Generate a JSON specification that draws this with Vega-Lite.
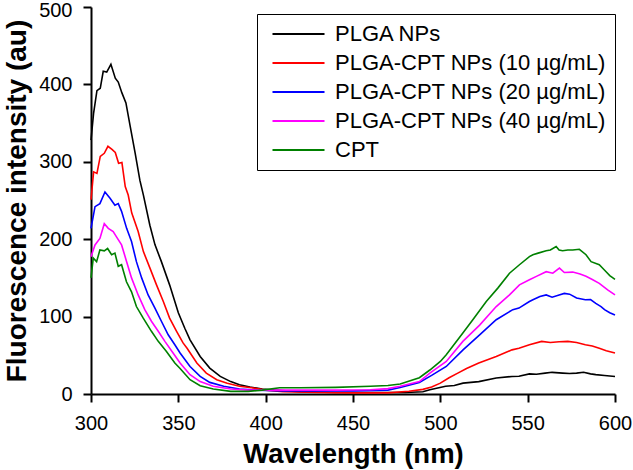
{
  "$schema": "https://vega.github.io/schema/vega-lite/v6.json",
  "width": 524,
  "height": 387,
  "autosize": {"type": "none"},
  "padding": {"left": 91, "top": 7, "right": 18, "bottom": 76},
  "background": "white",
  "config": {
    "font": "Liberation Sans",
    "view": {"stroke": null},
    "axis": {
      "domainColor": "black", "domainWidth": 2, "tickColor": "black", "tickWidth": 2, "tickSize": 8,
      "labelColor": "black", "labelFont": "Liberation Sans", "labelFontSize": 20,
      "titleFont": "Liberation Sans", "titleFontWeight": "bold", "titleColor": "black",
      "grid": false
    },
    "legend": {
      "labelFont": "Liberation Sans", "labelFontSize": 22, "labelColor": "black"
    }
  },
  "data": {"values": [
    {"w":300,"s":"PLGA NPs","v":328},{"w":301.5,"s":"PLGA NPs","v":363},{"w":303.4,"s":"PLGA NPs","v":392},{"w":305.3,"s":"PLGA NPs","v":395},{"w":307,"s":"PLGA NPs","v":417},{"w":309,"s":"PLGA NPs","v":416},{"w":311.4,"s":"PLGA NPs","v":426},{"w":313.9,"s":"PLGA NPs","v":408},{"w":315.6,"s":"PLGA NPs","v":403},{"w":317.7,"s":"PLGA NPs","v":389},{"w":320,"s":"PLGA NPs","v":376},{"w":322.5,"s":"PLGA NPs","v":345},{"w":325.3,"s":"PLGA NPs","v":311},{"w":328,"s":"PLGA NPs","v":276},{"w":330,"s":"PLGA NPs","v":257},{"w":333.7,"s":"PLGA NPs","v":218},{"w":336.6,"s":"PLGA NPs","v":193},{"w":340.3,"s":"PLGA NPs","v":171},{"w":345,"s":"PLGA NPs","v":141},{"w":350,"s":"PLGA NPs","v":105},{"w":353.7,"s":"PLGA NPs","v":85},{"w":356.7,"s":"PLGA NPs","v":70},{"w":362.5,"s":"PLGA NPs","v":48.5},{"w":368,"s":"PLGA NPs","v":33.5},{"w":374,"s":"PLGA NPs","v":22.7},{"w":380,"s":"PLGA NPs","v":16},{"w":385,"s":"PLGA NPs","v":12},{"w":391,"s":"PLGA NPs","v":9},{"w":398,"s":"PLGA NPs","v":6.5},{"w":405,"s":"PLGA NPs","v":5},{"w":420,"s":"PLGA NPs","v":3},{"w":440,"s":"PLGA NPs","v":2},{"w":460,"s":"PLGA NPs","v":2},{"w":480,"s":"PLGA NPs","v":2},{"w":490,"s":"PLGA NPs","v":3},{"w":494,"s":"PLGA NPs","v":5.5},{"w":503,"s":"PLGA NPs","v":10},{"w":508,"s":"PLGA NPs","v":11},{"w":513,"s":"PLGA NPs","v":14},{"w":522,"s":"PLGA NPs","v":16},{"w":532,"s":"PLGA NPs","v":20.6},{"w":541,"s":"PLGA NPs","v":22.7},{"w":545,"s":"PLGA NPs","v":23},{"w":551,"s":"PLGA NPs","v":26},{"w":555,"s":"PLGA NPs","v":25.5},{"w":560,"s":"PLGA NPs","v":27},{"w":564,"s":"PLGA NPs","v":28},{"w":570,"s":"PLGA NPs","v":27},{"w":574,"s":"PLGA NPs","v":26.5},{"w":578,"s":"PLGA NPs","v":27},{"w":582,"s":"PLGA NPs","v":28},{"w":586,"s":"PLGA NPs","v":26},{"w":589,"s":"PLGA NPs","v":25},{"w":594,"s":"PLGA NPs","v":24},{"w":600,"s":"PLGA NPs","v":22.7},

    {"w":300,"s":"PLGA-CPT NPs (10 µg/mL)","v":251},{"w":301.5,"s":"PLGA-CPT NPs (10 µg/mL)","v":287},{"w":303.4,"s":"PLGA-CPT NPs (10 µg/mL)","v":285},{"w":305.3,"s":"PLGA-CPT NPs (10 µg/mL)","v":307},{"w":307.6,"s":"PLGA-CPT NPs (10 µg/mL)","v":311},{"w":309.7,"s":"PLGA-CPT NPs (10 µg/mL)","v":320},{"w":312,"s":"PLGA-CPT NPs (10 µg/mL)","v":316},{"w":313.9,"s":"PLGA-CPT NPs (10 µg/mL)","v":312},{"w":315.8,"s":"PLGA-CPT NPs (10 µg/mL)","v":298},{"w":317.7,"s":"PLGA-CPT NPs (10 µg/mL)","v":299},{"w":319.6,"s":"PLGA-CPT NPs (10 µg/mL)","v":268},{"w":321.3,"s":"PLGA-CPT NPs (10 µg/mL)","v":257},{"w":323.3,"s":"PLGA-CPT NPs (10 µg/mL)","v":234},{"w":327,"s":"PLGA-CPT NPs (10 µg/mL)","v":210},{"w":330,"s":"PLGA-CPT NPs (10 µg/mL)","v":184},{"w":333.7,"s":"PLGA-CPT NPs (10 µg/mL)","v":163},{"w":337.5,"s":"PLGA-CPT NPs (10 µg/mL)","v":141},{"w":341.4,"s":"PLGA-CPT NPs (10 µg/mL)","v":119.5},{"w":345,"s":"PLGA-CPT NPs (10 µg/mL)","v":98},{"w":349,"s":"PLGA-CPT NPs (10 µg/mL)","v":81},{"w":352.7,"s":"PLGA-CPT NPs (10 µg/mL)","v":66},{"w":355,"s":"PLGA-CPT NPs (10 µg/mL)","v":59},{"w":360.6,"s":"PLGA-CPT NPs (10 µg/mL)","v":40},{"w":366,"s":"PLGA-CPT NPs (10 µg/mL)","v":27},{"w":372,"s":"PLGA-CPT NPs (10 µg/mL)","v":18.5},{"w":378,"s":"PLGA-CPT NPs (10 µg/mL)","v":14},{"w":385,"s":"PLGA-CPT NPs (10 µg/mL)","v":10},{"w":393,"s":"PLGA-CPT NPs (10 µg/mL)","v":7.7},{"w":400,"s":"PLGA-CPT NPs (10 µg/mL)","v":5},{"w":410,"s":"PLGA-CPT NPs (10 µg/mL)","v":3},{"w":430,"s":"PLGA-CPT NPs (10 µg/mL)","v":2},{"w":450,"s":"PLGA-CPT NPs (10 µg/mL)","v":1.5},{"w":470,"s":"PLGA-CPT NPs (10 µg/mL)","v":1.5},{"w":482,"s":"PLGA-CPT NPs (10 µg/mL)","v":3.5},{"w":490,"s":"PLGA-CPT NPs (10 µg/mL)","v":6},{"w":495,"s":"PLGA-CPT NPs (10 µg/mL)","v":9},{"w":500,"s":"PLGA-CPT NPs (10 µg/mL)","v":14},{"w":505,"s":"PLGA-CPT NPs (10 µg/mL)","v":21},{"w":510,"s":"PLGA-CPT NPs (10 µg/mL)","v":27},{"w":515,"s":"PLGA-CPT NPs (10 µg/mL)","v":33},{"w":522,"s":"PLGA-CPT NPs (10 µg/mL)","v":40},{"w":532,"s":"PLGA-CPT NPs (10 µg/mL)","v":48.5},{"w":541,"s":"PLGA-CPT NPs (10 µg/mL)","v":57},{"w":545,"s":"PLGA-CPT NPs (10 µg/mL)","v":59},{"w":551,"s":"PLGA-CPT NPs (10 µg/mL)","v":63.6},{"w":558,"s":"PLGA-CPT NPs (10 µg/mL)","v":68},{"w":563,"s":"PLGA-CPT NPs (10 µg/mL)","v":66.5},{"w":568,"s":"PLGA-CPT NPs (10 µg/mL)","v":67.5},{"w":573,"s":"PLGA-CPT NPs (10 µg/mL)","v":68},{"w":578,"s":"PLGA-CPT NPs (10 µg/mL)","v":66.5},{"w":583,"s":"PLGA-CPT NPs (10 µg/mL)","v":63.6},{"w":587,"s":"PLGA-CPT NPs (10 µg/mL)","v":62},{"w":591,"s":"PLGA-CPT NPs (10 µg/mL)","v":59},{"w":595,"s":"PLGA-CPT NPs (10 µg/mL)","v":56},{"w":600,"s":"PLGA-CPT NPs (10 µg/mL)","v":53},

    {"w":300,"s":"PLGA-CPT NPs (20 µg/mL)","v":214},{"w":302.3,"s":"PLGA-CPT NPs (20 µg/mL)","v":242},{"w":305.1,"s":"PLGA-CPT NPs (20 µg/mL)","v":246},{"w":308,"s":"PLGA-CPT NPs (20 µg/mL)","v":261},{"w":310.9,"s":"PLGA-CPT NPs (20 µg/mL)","v":253},{"w":313.7,"s":"PLGA-CPT NPs (20 µg/mL)","v":244},{"w":315.6,"s":"PLGA-CPT NPs (20 µg/mL)","v":246},{"w":317.5,"s":"PLGA-CPT NPs (20 µg/mL)","v":236},{"w":320.4,"s":"PLGA-CPT NPs (20 µg/mL)","v":214},{"w":323.2,"s":"PLGA-CPT NPs (20 µg/mL)","v":197},{"w":326,"s":"PLGA-CPT NPs (20 µg/mL)","v":171},{"w":329,"s":"PLGA-CPT NPs (20 µg/mL)","v":150},{"w":332.7,"s":"PLGA-CPT NPs (20 µg/mL)","v":128},{"w":336.6,"s":"PLGA-CPT NPs (20 µg/mL)","v":111},{"w":340.3,"s":"PLGA-CPT NPs (20 µg/mL)","v":94},{"w":344.2,"s":"PLGA-CPT NPs (20 µg/mL)","v":76.5},{"w":348,"s":"PLGA-CPT NPs (20 µg/mL)","v":63.6},{"w":351,"s":"PLGA-CPT NPs (20 µg/mL)","v":53},{"w":356.7,"s":"PLGA-CPT NPs (20 µg/mL)","v":35.6},{"w":362.5,"s":"PLGA-CPT NPs (20 µg/mL)","v":22.7},{"w":368,"s":"PLGA-CPT NPs (20 µg/mL)","v":15},{"w":376,"s":"PLGA-CPT NPs (20 µg/mL)","v":10},{"w":385,"s":"PLGA-CPT NPs (20 µg/mL)","v":6.5},{"w":395,"s":"PLGA-CPT NPs (20 µg/mL)","v":5},{"w":410,"s":"PLGA-CPT NPs (20 µg/mL)","v":4},{"w":430,"s":"PLGA-CPT NPs (20 µg/mL)","v":4},{"w":450,"s":"PLGA-CPT NPs (20 µg/mL)","v":4},{"w":470,"s":"PLGA-CPT NPs (20 µg/mL)","v":5},{"w":477,"s":"PLGA-CPT NPs (20 µg/mL)","v":8.5},{"w":488,"s":"PLGA-CPT NPs (20 µg/mL)","v":15},{"w":495,"s":"PLGA-CPT NPs (20 µg/mL)","v":24},{"w":503.4,"s":"PLGA-CPT NPs (20 µg/mL)","v":35.6},{"w":513,"s":"PLGA-CPT NPs (20 µg/mL)","v":57},{"w":522.5,"s":"PLGA-CPT NPs (20 µg/mL)","v":76.5},{"w":532,"s":"PLGA-CPT NPs (20 µg/mL)","v":96},{"w":541.5,"s":"PLGA-CPT NPs (20 µg/mL)","v":109},{"w":545,"s":"PLGA-CPT NPs (20 µg/mL)","v":111},{"w":551,"s":"PLGA-CPT NPs (20 µg/mL)","v":119.5},{"w":553,"s":"PLGA-CPT NPs (20 µg/mL)","v":121.7},{"w":557,"s":"PLGA-CPT NPs (20 µg/mL)","v":126},{"w":560.6,"s":"PLGA-CPT NPs (20 µg/mL)","v":128},{"w":564,"s":"PLGA-CPT NPs (20 µg/mL)","v":125},{"w":568,"s":"PLGA-CPT NPs (20 µg/mL)","v":128},{"w":571,"s":"PLGA-CPT NPs (20 µg/mL)","v":130},{"w":574,"s":"PLGA-CPT NPs (20 µg/mL)","v":129},{"w":578,"s":"PLGA-CPT NPs (20 µg/mL)","v":124},{"w":583,"s":"PLGA-CPT NPs (20 µg/mL)","v":121.7},{"w":586,"s":"PLGA-CPT NPs (20 µg/mL)","v":122},{"w":589,"s":"PLGA-CPT NPs (20 µg/mL)","v":117},{"w":592,"s":"PLGA-CPT NPs (20 µg/mL)","v":113},{"w":594,"s":"PLGA-CPT NPs (20 µg/mL)","v":109},{"w":597,"s":"PLGA-CPT NPs (20 µg/mL)","v":105},{"w":600,"s":"PLGA-CPT NPs (20 µg/mL)","v":102},

    {"w":300,"s":"PLGA-CPT NPs (40 µg/mL)","v":177.5},{"w":302.3,"s":"PLGA-CPT NPs (40 µg/mL)","v":192.6},{"w":305.1,"s":"PLGA-CPT NPs (40 µg/mL)","v":201},{"w":307.6,"s":"PLGA-CPT NPs (40 µg/mL)","v":220},{"w":309.9,"s":"PLGA-CPT NPs (40 µg/mL)","v":214},{"w":312.7,"s":"PLGA-CPT NPs (40 µg/mL)","v":210},{"w":314.6,"s":"PLGA-CPT NPs (40 µg/mL)","v":203},{"w":317.5,"s":"PLGA-CPT NPs (40 µg/mL)","v":192.6},{"w":320.4,"s":"PLGA-CPT NPs (40 µg/mL)","v":171},{"w":323.2,"s":"PLGA-CPT NPs (40 µg/mL)","v":150},{"w":327,"s":"PLGA-CPT NPs (40 µg/mL)","v":128},{"w":330.8,"s":"PLGA-CPT NPs (40 µg/mL)","v":109},{"w":334.6,"s":"PLGA-CPT NPs (40 µg/mL)","v":94},{"w":338.5,"s":"PLGA-CPT NPs (40 µg/mL)","v":81},{"w":342.3,"s":"PLGA-CPT NPs (40 µg/mL)","v":68},{"w":347,"s":"PLGA-CPT NPs (40 µg/mL)","v":53},{"w":351,"s":"PLGA-CPT NPs (40 µg/mL)","v":40},{"w":356.7,"s":"PLGA-CPT NPs (40 µg/mL)","v":25},{"w":362.5,"s":"PLGA-CPT NPs (40 µg/mL)","v":16},{"w":370,"s":"PLGA-CPT NPs (40 µg/mL)","v":10},{"w":380,"s":"PLGA-CPT NPs (40 µg/mL)","v":6.5},{"w":390,"s":"PLGA-CPT NPs (40 µg/mL)","v":5},{"w":400,"s":"PLGA-CPT NPs (40 µg/mL)","v":5},{"w":420,"s":"PLGA-CPT NPs (40 µg/mL)","v":5},{"w":440,"s":"PLGA-CPT NPs (40 µg/mL)","v":5},{"w":460,"s":"PLGA-CPT NPs (40 µg/mL)","v":5.5},{"w":470,"s":"PLGA-CPT NPs (40 µg/mL)","v":7},{"w":477,"s":"PLGA-CPT NPs (40 µg/mL)","v":10},{"w":488,"s":"PLGA-CPT NPs (40 µg/mL)","v":16},{"w":494,"s":"PLGA-CPT NPs (40 µg/mL)","v":27},{"w":503.4,"s":"PLGA-CPT NPs (40 µg/mL)","v":42},{"w":512.9,"s":"PLGA-CPT NPs (40 µg/mL)","v":68},{"w":522.5,"s":"PLGA-CPT NPs (40 µg/mL)","v":89},{"w":532,"s":"PLGA-CPT NPs (40 µg/mL)","v":113},{"w":539.6,"s":"PLGA-CPT NPs (40 µg/mL)","v":128},{"w":545.3,"s":"PLGA-CPT NPs (40 µg/mL)","v":141},{"w":551,"s":"PLGA-CPT NPs (40 µg/mL)","v":147.5},{"w":555,"s":"PLGA-CPT NPs (40 µg/mL)","v":152},{"w":560.6,"s":"PLGA-CPT NPs (40 µg/mL)","v":158},{"w":564.4,"s":"PLGA-CPT NPs (40 µg/mL)","v":156},{"w":568.2,"s":"PLGA-CPT NPs (40 µg/mL)","v":162.6},{"w":571,"s":"PLGA-CPT NPs (40 µg/mL)","v":157},{"w":575.8,"s":"PLGA-CPT NPs (40 µg/mL)","v":157.5},{"w":580,"s":"PLGA-CPT NPs (40 µg/mL)","v":155},{"w":583.4,"s":"PLGA-CPT NPs (40 µg/mL)","v":152},{"w":587,"s":"PLGA-CPT NPs (40 µg/mL)","v":148},{"w":591,"s":"PLGA-CPT NPs (40 µg/mL)","v":143},{"w":595.8,"s":"PLGA-CPT NPs (40 µg/mL)","v":134.6},{"w":600,"s":"PLGA-CPT NPs (40 µg/mL)","v":128},

    {"w":300,"s":"CPT","v":150},{"w":301.3,"s":"CPT","v":175.5},{"w":303.2,"s":"CPT","v":171},{"w":305.1,"s":"CPT","v":186},{"w":307.6,"s":"CPT","v":185},{"w":309.5,"s":"CPT","v":188},{"w":311.8,"s":"CPT","v":180},{"w":313.7,"s":"CPT","v":182},{"w":315.6,"s":"CPT","v":165},{"w":317.5,"s":"CPT","v":167},{"w":320.3,"s":"CPT","v":145},{"w":323.2,"s":"CPT","v":132},{"w":326,"s":"CPT","v":113},{"w":329.9,"s":"CPT","v":98},{"w":334.6,"s":"CPT","v":81},{"w":338.5,"s":"CPT","v":68},{"w":343.2,"s":"CPT","v":55},{"w":348,"s":"CPT","v":40},{"w":351,"s":"CPT","v":33},{"w":356.7,"s":"CPT","v":18.5},{"w":362.5,"s":"CPT","v":10.7},{"w":370,"s":"CPT","v":6.5},{"w":380,"s":"CPT","v":3.4},{"w":390,"s":"CPT","v":3.4},{"w":398,"s":"CPT","v":5},{"w":408,"s":"CPT","v":8},{"w":420,"s":"CPT","v":8},{"w":440,"s":"CPT","v":8.6},{"w":460,"s":"CPT","v":10},{"w":470,"s":"CPT","v":11},{"w":477,"s":"CPT","v":13},{"w":488,"s":"CPT","v":21},{"w":494,"s":"CPT","v":31},{"w":500,"s":"CPT","v":42},{"w":503.4,"s":"CPT","v":50.7},{"w":512.9,"s":"CPT","v":78.7},{"w":518.6,"s":"CPT","v":96},{"w":526.3,"s":"CPT","v":119.5},{"w":532.9,"s":"CPT","v":136.8},{"w":539.6,"s":"CPT","v":156},{"w":545.3,"s":"CPT","v":167},{"w":551,"s":"CPT","v":177.5},{"w":553,"s":"CPT","v":180},{"w":556,"s":"CPT","v":182},{"w":560.6,"s":"CPT","v":185},{"w":563,"s":"CPT","v":186},{"w":566.3,"s":"CPT","v":190.5},{"w":568,"s":"CPT","v":186},{"w":570,"s":"CPT","v":185},{"w":573,"s":"CPT","v":186},{"w":575.8,"s":"CPT","v":186},{"w":579.6,"s":"CPT","v":187},{"w":583.4,"s":"CPT","v":180},{"w":586.3,"s":"CPT","v":171},{"w":591,"s":"CPT","v":167},{"w":594.9,"s":"CPT","v":158},{"w":597,"s":"CPT","v":153},{"w":600,"s":"CPT","v":148}
  ]},
  "mark": {"type": "line", "strokeWidth": 1.6, "interpolate": "linear"},
  "encoding": {
    "x": {"field": "w", "type": "quantitative", "title": "Wavelength (nm)",
      "scale": {"domain": [300, 600], "nice": false, "zero": false},
      "axis": {"values": [300, 350, 400, 450, 500, 550, 600], "labelPadding": 11, "titlePadding": 7, "titleFontSize": 27.5, "labelFlush": false}},
    "y": {"field": "v", "type": "quantitative", "title": "Fluorescence intensity (au)",
      "scale": {"domain": [0, 500], "nice": false},
      "axis": {"values": [0, 100, 200, 300, 400, 500], "labelPadding": 11, "titlePadding": 7, "titleFontSize": 28, "labelFlush": false, "labelBound": false,
        "labelOffset": {"condition": {"test": "datum.value == 500", "value": 3}, "value": 0}}},
    "color": {"field": "s", "type": "nominal", "title": null,
      "scale": {"domain": ["PLGA NPs", "PLGA-CPT NPs (10 µg/mL)", "PLGA-CPT NPs (20 µg/mL)", "PLGA-CPT NPs (40 µg/mL)", "CPT"],
        "range": ["#000000", "#ff0000", "#0000ff", "#ff00ff", "#008000"]},
      "legend": {"orient": "none", "legendX": 166, "legendY": 7, "strokeColor": "black", "fillColor": "white",
        "padding": 9, "symbolType": "M-0.53,0H5.59", "symbolSize": 289, "symbolStrokeWidth": 2.2, "rowPadding": 7, "labelOffset": 47, "labelLimit": 400}}
  }
}
